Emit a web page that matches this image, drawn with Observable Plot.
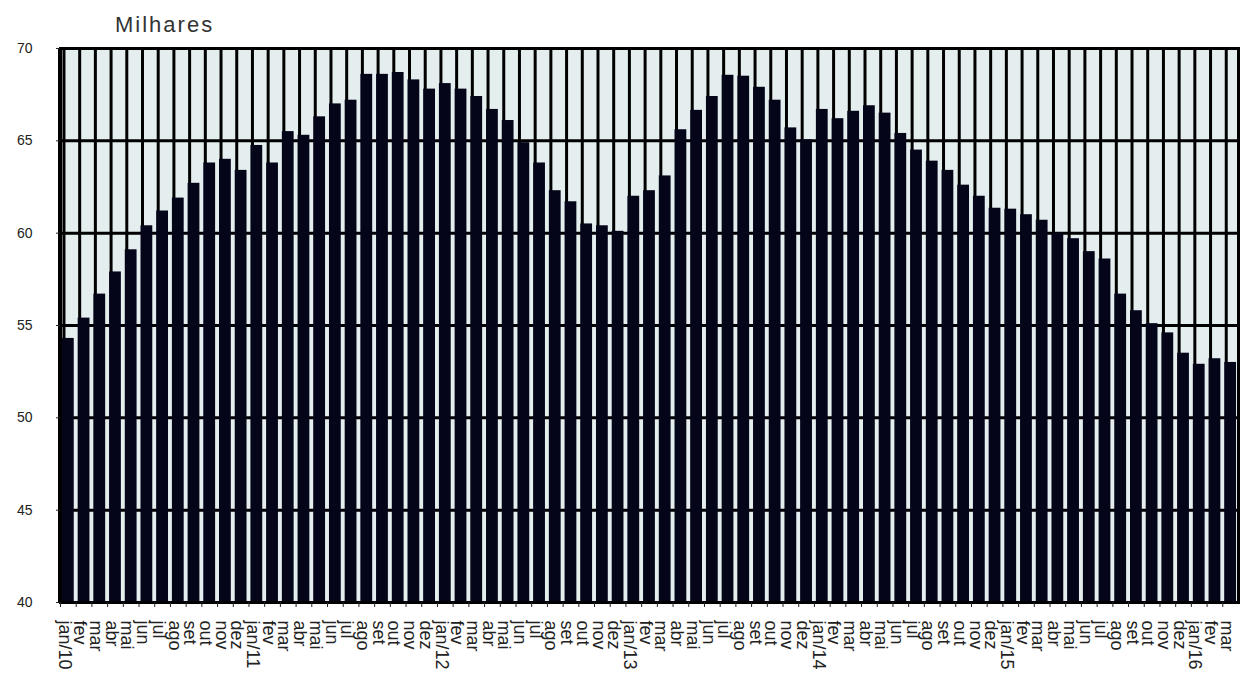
<!DOCTYPE html>
<html>
<head>
<meta charset="utf-8">
<script src="https://cdn.jsdelivr.net/npm/d3@7"></script>
<script src="https://cdn.jsdelivr.net/npm/@observablehq/plot@0.6"></script>
<style>
  body { margin: 0; background: #fff; font-family: "Liberation Sans", Arial, sans-serif; }
  #wrap { position: relative; width: 1242px; height: 679px; overflow: hidden; }
  #title { position: absolute; left: 115px; top: 12px; font-size: 22px; letter-spacing: 2px; color: #333; }
  #chart { position: absolute; left: 0; top: 40px; }
</style>
</head>
<body>
<div id="wrap">
  <div id="title">Milhares</div>
  <div id="chart"></div>
</div>
<script>
// Tick labels (one per month, jan/2010 – mar/2016)
const labels = [
  "jan/10","fev","mar","abr","mai","jun","jul","ago","set","out","nov","dez",
  "jan/11","fev","mar","abr","mai","jun","jul","ago","set","out","nov","dez",
  "jan/12","fev","mar","abr","mai","jun","jul","ago","set","out","nov","dez",
  "jan/13","fev","mar","abr","mai","jun","jul","ago","set","out","nov","dez",
  "jan/14","fev","mar","abr","mai","jun","jul","ago","set","out","nov","dez",
  "jan/15","fev","mar","abr","mai","jun","jul","ago","set","out","nov","dez",
  "jan/16","fev","mar"
];

// Values (milhares)
const values2010 = [54.3, 55.4, 56.7, 57.9, 59.1, 60.4, 61.2, 61.9, 62.7, 63.8, 64.0, 63.4];
const values2011 = [64.75, 63.8, 65.5, 65.3, 66.3, 67.0, 67.2, 68.6, 68.6, 68.7, 68.3, 67.8];
const values2012 = [68.1, 67.8, 67.4, 66.7, 66.1, 64.9, 63.8, 62.3, 61.7, 60.5, 60.4, 60.1];
const values2013 = [62.0, 62.3, 63.1, 65.6, 66.65, 67.4, 68.55, 68.5, 67.9, 67.2, 65.7, 65.05];
const values2014 = [66.7, 66.2, 66.6, 66.9, 66.5, 65.4, 64.5, 63.9, 63.4, 62.6, 62.0, 61.35];
const values2015 = [61.3, 61.0, 60.7, 60.0, 59.7, 59.0, 58.6, 56.7, 55.8, 55.1, 54.6, 53.5];
const values2016 = [52.9, 53.2, 53.0];

const yTicks = [40, 45, 50, 55, 60, 65, 70];

const values = [...values2010, ...values2011, ...values2012, ...values2013, ...values2014, ...values2015, ...values2016];
const n = labels.length;
const table = labels.map((label, i) => ({i, label, value: values[i]}));

const W = 1242, H = 639, ML = 60, MR = 4, MT = 8, MB = 77;
const padIn = 0.25, padOut = 0.125;
const step = (W - ML - MR) / (n - padIn + 2 * padOut);
const bw = step * (1 - padIn);

const plot = Plot.plot({
  width: W, height: H,
  marginLeft: ML, marginRight: MR, marginTop: MT, marginBottom: MB,
  style: {fontFamily: "Liberation Sans, Arial, sans-serif", fontSize: "14px", color: "#222", background: "transparent"},
  x: {type: "band", domain: d3.range(n), paddingInner: padIn, paddingOuter: padOut, axis: null, label: null},
  y: {domain: [40, 70], axis: null, label: null},
  marks: [
    Plot.frame({fill: "#e4eeee"}),
    Plot.gridY(yTicks, {stroke: "#000", strokeOpacity: 1, strokeWidth: 3}),
    Plot.ruleX(table, {x: "i", y1: 40, y2: 70, stroke: "#000", strokeWidth: 3, dx: -bw / 2 + 1.5}),
    Plot.barY(table, {x: "i", y1: 40, y2: "value", fill: "#05051a"}),
    Plot.frame({stroke: "#000", strokeWidth: 3}),
    Plot.ruleX([0], {x: (d) => d, y1: 40, y2: 70, stroke: "#000", strokeWidth: 3, dx: -step / 2 - 1}),
    Plot.axisY(yTicks, {tickSize: 4, tickPadding: 24, fontSize: 14, label: null}),
    Plot.axisX(d3.range(n), {tickSize: 5, tickFormat: () => "", dx: -step / 2, label: null}),
    Plot.axisX(d3.range(n), {tickSize: 0, tickPadding: 18, tickRotate: 90, tickFormat: (i) => labels[i], fontSize: 18, dx: -4, label: null})
  ]
});
document.getElementById("chart").append(plot);
</script>
</body>
</html>
